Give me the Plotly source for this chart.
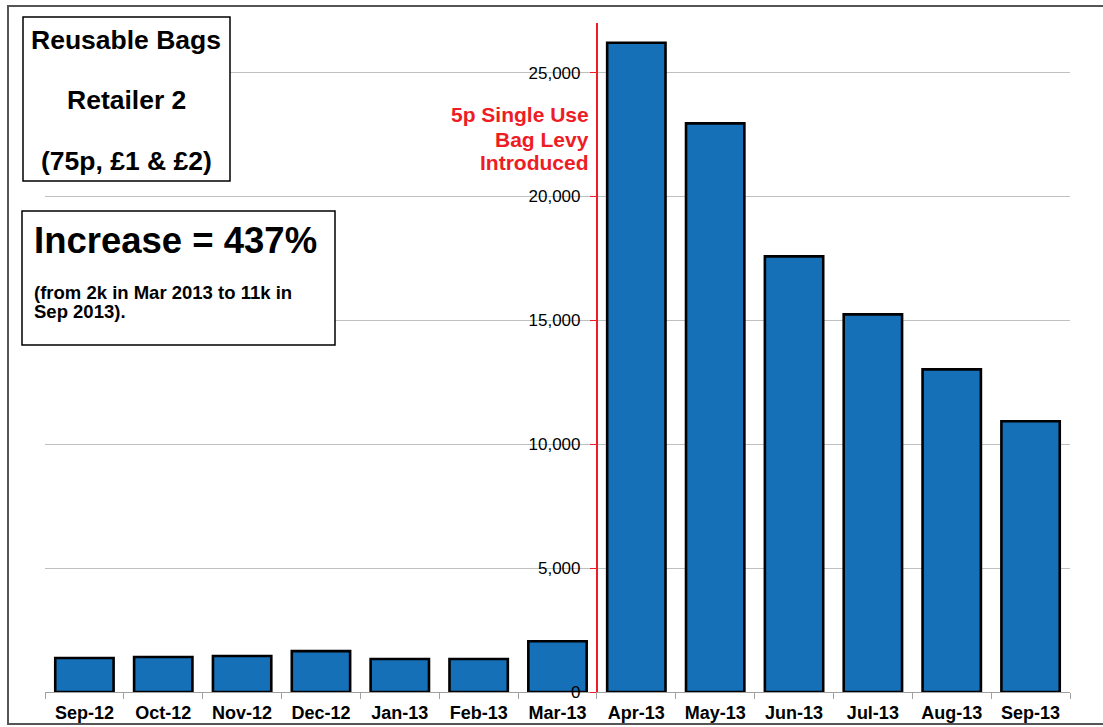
import plotly.graph_objects as go

months = ["Sep-12", "Oct-12", "Nov-12", "Dec-12", "Jan-13", "Feb-13", "Mar-13",
          "Apr-13", "May-13", "Jun-13", "Jul-13", "Aug-13", "Sep-13"]
bags = [1370, 1410, 1450, 1650, 1330, 1330, 2050,
        26200, 22950, 17580, 15240, 13020, 10930]
y_ticks = [0, 5000, 10000, 15000, 20000, 25000]
y_tick_text = ["0", "5,000", "10,000", "15,000", "20,000", "25,000"]
levy_lines = ["5p Single Use", "Bag Levy", "Introduced"]
title_lines = ["Reusable Bags", "Retailer 2", "(75p, £1 & £2)"]
increase_text = "Increase = 437%"
increase_note = ["(from 2k in Mar 2013 to 11k in", "Sep 2013)."]

W, H = 1103, 727
L, R, T, B = 45, 33, 23, 35
PW, PH = W - L - R, H - T - B

def px(x):
    return (x - L) / PW

def py(y):
    return (H - B - y) / PH

FONT = "Liberation Sans, Arial, sans-serif"

fig = go.Figure(go.Bar(
    x=months, y=bags,
    marker=dict(color="#1570B8", line=dict(color="black", width=2.6)),
    width=0.74,
))

levy_pos = 6.5
n = len(months)
fig.update_layout(
    width=W, height=H,
    margin=dict(l=L, r=R, t=T, b=B, autoexpand=False),
    paper_bgcolor="white", plot_bgcolor="white",
    showlegend=False,
    font=dict(family=FONT, color="black"),
    xaxis=dict(
        range=[-0.5, n - 0.5], automargin=False,
        showline=True, linecolor="#a0a0a0", linewidth=1,
        ticks="outside", tickson="boundaries", ticklen=6, tickcolor="#a0a0a0",
        ticklabelstandoff=4,
        tickfont=dict(family=FONT, size=18, color="black", weight="bold"),
        showgrid=False, zeroline=False, fixedrange=True,
    ),
    yaxis=dict(
        range=[0, 27000], automargin=False,
        anchor="free", position=(levy_pos + 0.5) / n,
        tickvals=y_ticks, ticktext=y_tick_text,
        showline=True, linecolor="#ee1c25", linewidth=2,
        ticks="outside", ticklen=6, tickcolor="#ee1c25",
        ticklabelstandoff=6,
        tickfont=dict(family=FONT, size=17, color="black"),
        showgrid=True, gridcolor="#c0c0c0", gridwidth=1,
        zeroline=False,
    ),
)

shapes = []
# outer border
shapes.append(dict(type="rect", xref="paper", yref="paper",
                   x0=px(8), x1=px(1120), y0=py(724), y1=py(6),
                   line=dict(color="#555555", width=2), fillcolor="rgba(0,0,0,0)", layer="above"))
# title box
shapes.append(dict(type="rect", xref="paper", yref="paper",
                   x0=px(23), x1=px(230), y0=py(181), y1=py(17),
                   line=dict(color="black", width=1.5), fillcolor="white", layer="above"))
# increase box
shapes.append(dict(type="rect", xref="paper", yref="paper",
                   x0=px(22), x1=px(335), y0=py(345), y1=py(211),
                   line=dict(color="black", width=1.5), fillcolor="white", layer="above"))
fig.update_layout(shapes=shapes)

ann = []
for txt, yy in zip(title_lines, [40, 100, 161]):
    ann.append(dict(text="<b>%s</b>" % txt, xref="paper", yref="paper",
                    x=px(126), y=py(yy), xanchor="center", yanchor="middle",
                    showarrow=False, font=dict(family=FONT, size=26.5, color="black")))
ann.append(dict(text="<b>%s</b>" % increase_text, xref="paper", yref="paper",
                x=px(32), y=py(240), xanchor="left", yanchor="middle",
                showarrow=False, font=dict(family=FONT, size=36.5, color="black")))
for txt, yy in zip(increase_note, [292, 311]):
    ann.append(dict(text="<b>%s</b>" % txt, xref="paper", yref="paper",
                    x=px(32), y=py(yy), xanchor="left", yanchor="middle", align="left",
                    showarrow=False, font=dict(family=FONT, size=18.5, color="black")))
for txt, yy in zip(levy_lines, [114, 139, 163]):
    ann.append(dict(text="<b>%s</b>" % txt, xref="paper", yref="paper",
                    x=px(591), y=py(yy), xanchor="right", yanchor="middle", align="right",
                    showarrow=False, font=dict(family=FONT, size=21, color="#ee1c25")))
fig.update_layout(annotations=ann)

fig.write_html("out.html")
